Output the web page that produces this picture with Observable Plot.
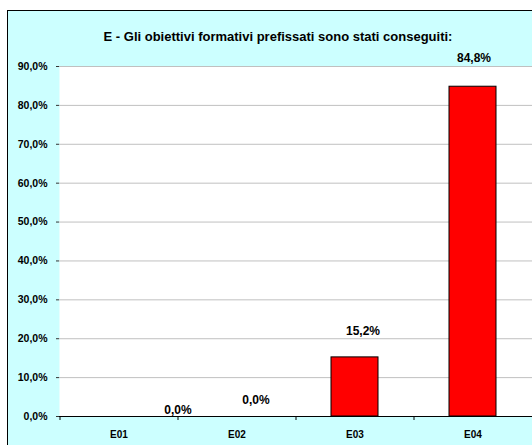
<!DOCTYPE html>
<html>
<head>
<meta charset="utf-8">
<script src="https://cdn.jsdelivr.net/npm/d3@7"></script>
<script src="https://cdn.jsdelivr.net/npm/@observablehq/plot@0.6"></script>
<style>
  body { margin: 0; background: #fff; }
  #wrap { position: relative; width: 532px; height: 445px; overflow: hidden; background: #fff; }
  #panel { position: absolute; left: 7px; top: 10px; width: 600px; height: 500px; background: #ccffff; border: 1px solid #000; }
  #title { position: absolute; top: 29px; left: 24px; width: 508px; text-align: center;
           font: bold 13px "Liberation Sans", Arial, sans-serif; color: #000; white-space: nowrap; }
  #chart { position: absolute; left: 0; top: 0; }
</style>
</head>
<body>
<div id="wrap">
  <div id="panel"></div>
  <div id="title">E - Gli obiettivi formativi prefissati sono stati conseguiti:</div>
  <div id="chart"></div>
</div>
<script>
const categories = ["E01", "E02", "E03", "E04"];
const values = [0.0, 0.0, 0.152, 0.848];
const yTicks = [0, 0.1, 0.2, 0.3, 0.4, 0.5, 0.6, 0.7, 0.8, 0.9];

const fmt = d => (d * 100).toFixed(1).replace(".", ",") + "%";
const data = categories.map((c, i) => ({cat: c, value: values[i], label: fmt(values[i])}));

// label nudges (style only)
const nudges = [[59, -6], [19, -16], [8, -26], [1, -29]];

const labelMarks = data.map((d, i) => Plot.text([d], {
  x: "cat", y: "value", text: "label",
  dx: nudges[i][0], dy: nudges[i][1],
  fontSize: 12, fontWeight: "bold", fill: "#000"
}));

const chart = Plot.plot({
  width: 532,
  height: 445,
  marginLeft: 59,
  marginRight: 0,
  marginTop: 66,
  marginBottom: 29,
  style: {background: "transparent", fontFamily: "'Liberation Sans', Arial, sans-serif", color: "#000"},
  x: {domain: categories, paddingInner: 0.6, paddingOuter: 0.3, label: null},
  y: {domain: [0, 0.9], label: null},
  marks: [
    Plot.frame({fill: "white", stroke: null}),
    Plot.gridY(yTicks, {stroke: "#c0c0c0", strokeOpacity: 1}),
    Plot.barY(data, {x: "cat", y: "value", fill: "#ff0000", stroke: "#000", strokeWidth: 1}),
    Plot.ruleY([0], {stroke: "#000", strokeWidth: 1.2}),
    Plot.axisY({ticks: yTicks, tickFormat: fmt, tickSize: 3, tickPadding: 9, line: true,
                stroke: "#333", fontSize: 10.5, fontWeight: "bold", fill: "#000"}),
    Plot.axisX({tickSize: 0, tickPadding: 14, fontSize: 10, fontWeight: "bold", fill: "#000"}),
    Plot.axisX({tickSize: 4, tickFormat: () => "", dx: -59, stroke: "#000"}),
    ...labelMarks
  ]
});
document.getElementById("chart").appendChild(chart);
</script>
</body>
</html>
